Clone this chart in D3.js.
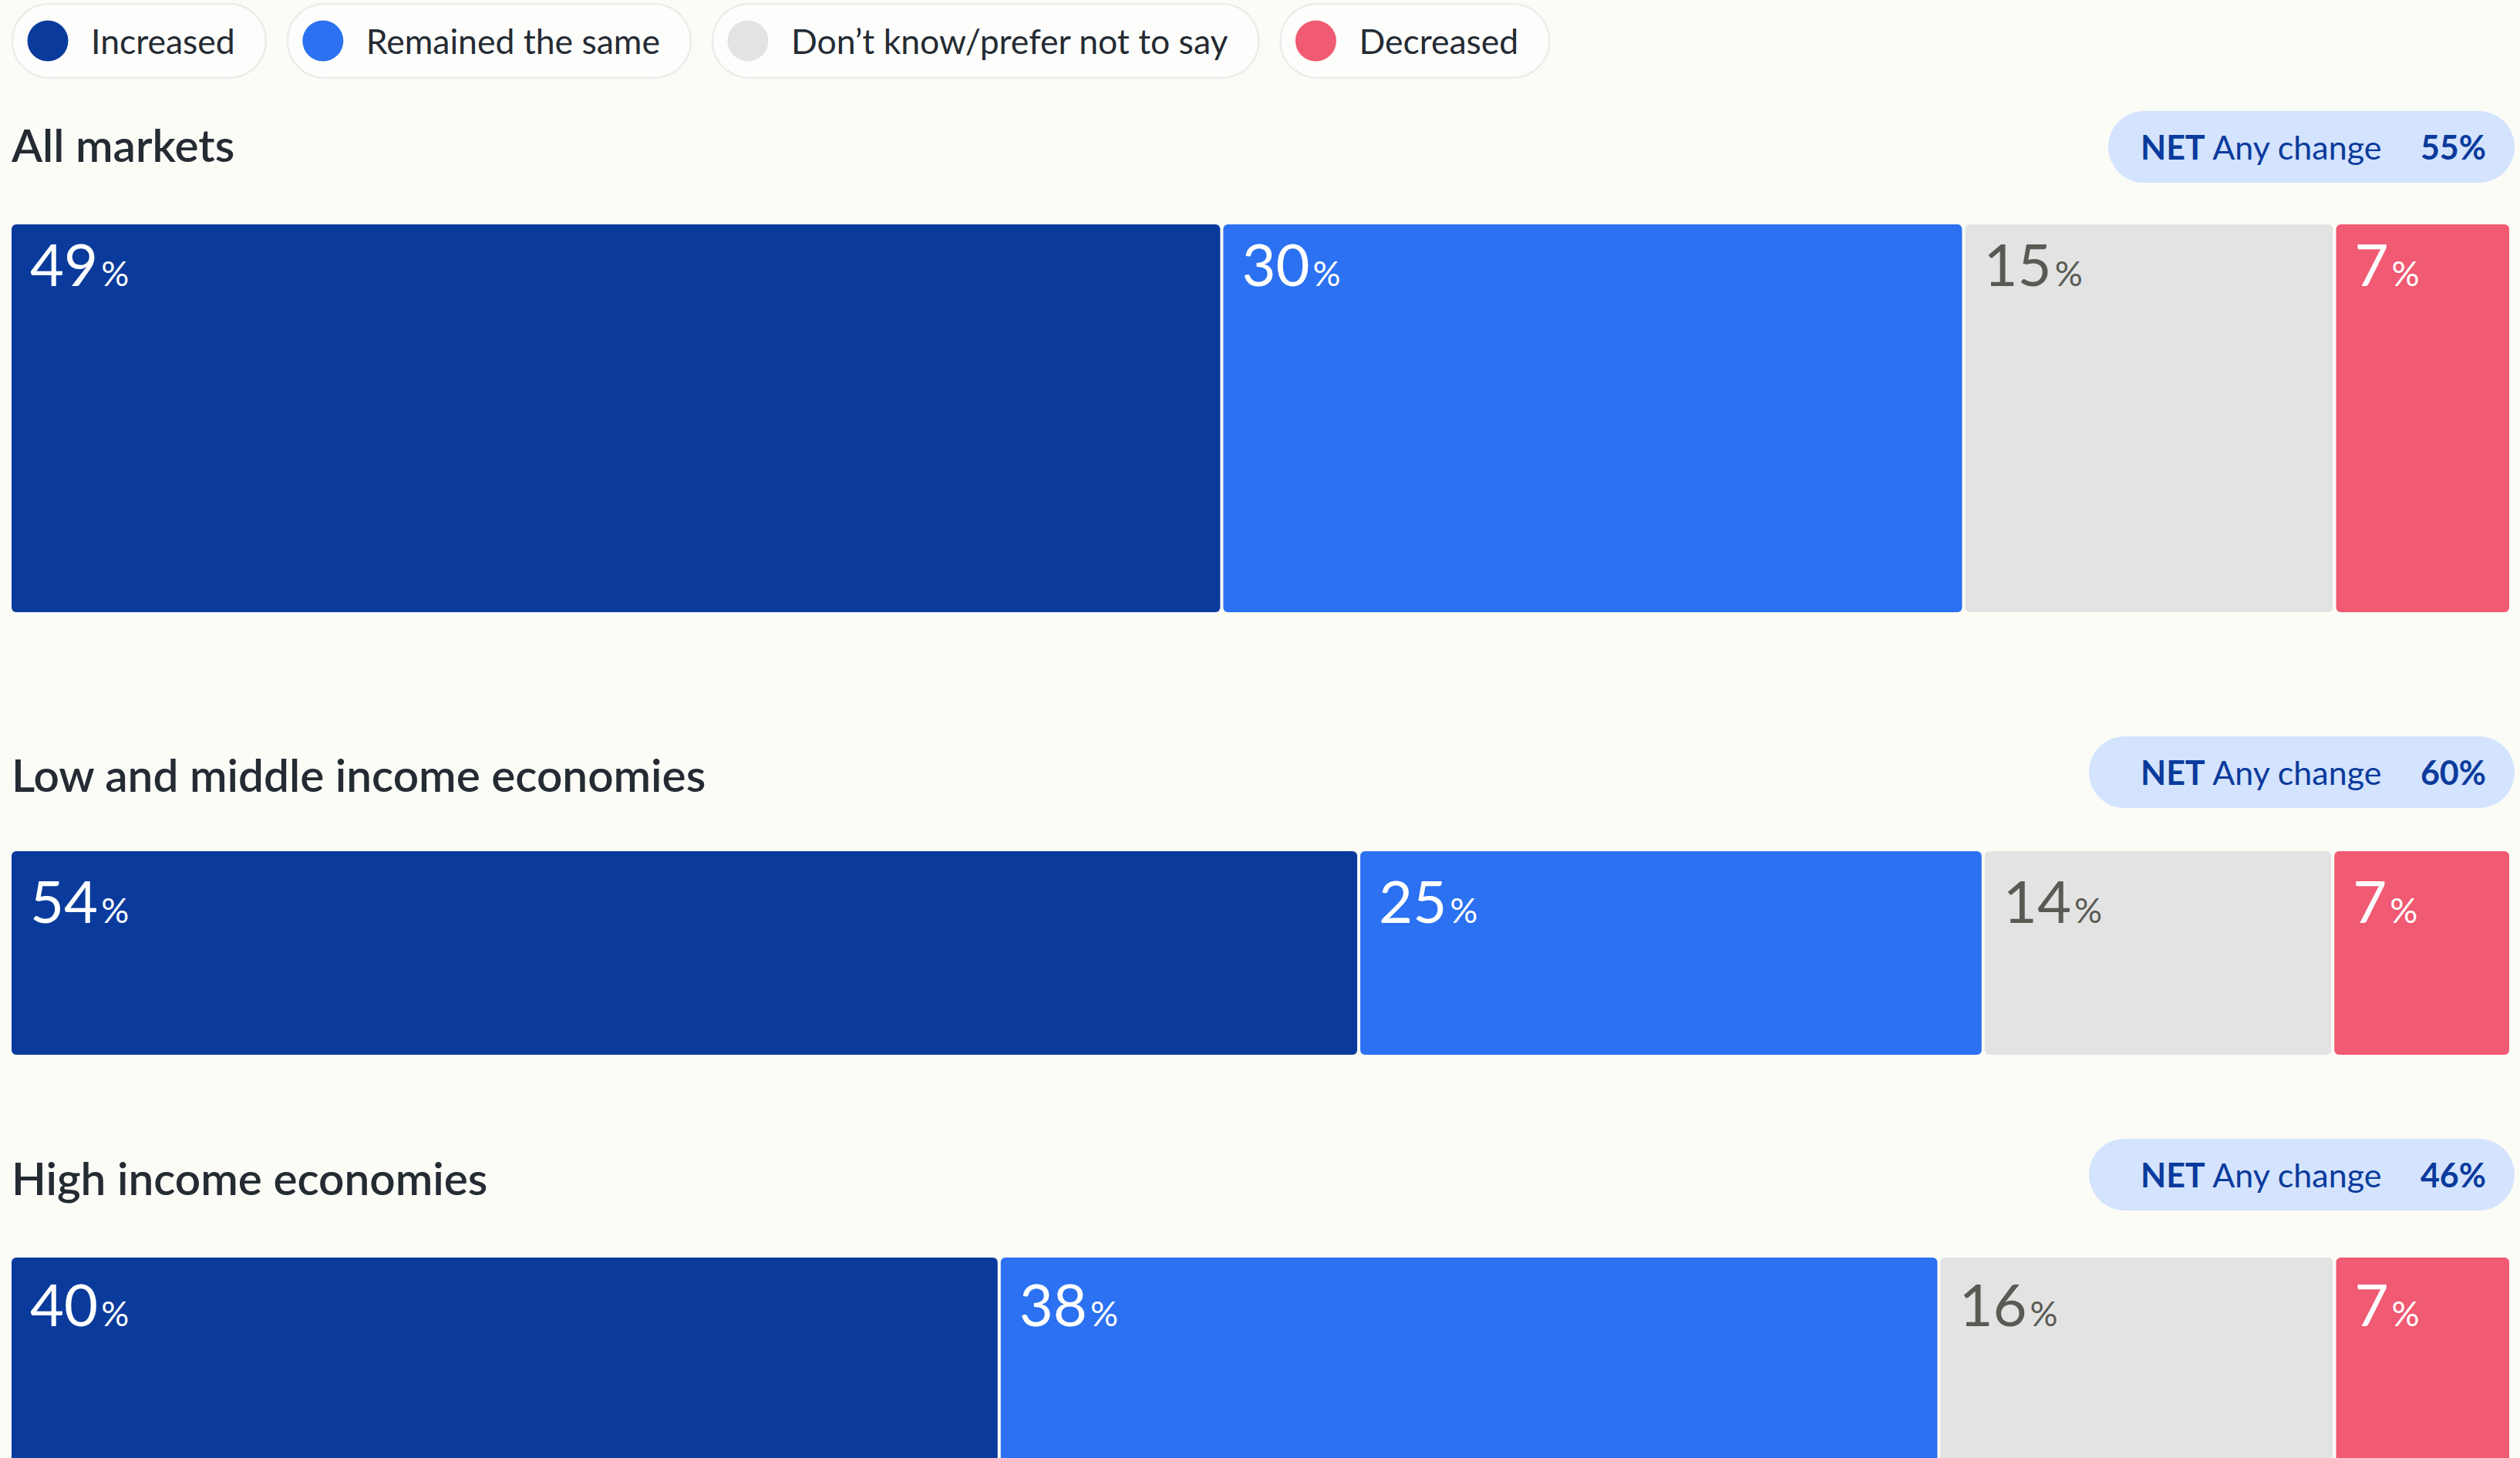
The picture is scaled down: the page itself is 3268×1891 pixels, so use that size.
<!DOCTYPE html>
<html>
<head>
<meta charset="utf-8">
<script src="https://cdn.jsdelivr.net/npm/d3@7"></script>
<style>
  html, body { margin: 0; padding: 0; background: #fcfcf7; overflow: hidden; }
  svg { display: block; }
</style>
</head>
<body>
<svg id="chart"></svg>
<script>
// Survey answers, stacked per market group
const categories = ["Increased", "Remained the same", "Don’t know/prefer not to say", "Decreased"];
const groups = ["All markets", "Low and middle income economies", "High income economies"];
const increased = [49, 54, 40];
const remainedSame = [30, 25, 38];
const dontKnow = [15, 14, 16];
const decreased = [7, 7, 7];
const netAnyChange = [55, 60, 46];

const colors = ["#0a3b9c", "#2b71f1", "#e3e3e3", "#f05a72"];
const labelColors = ["#ffffff", "#ffffff", "#5a5a55", "#ffffff"];

const W = 3268, H = 1891;
const FONT = "Lato, 'Open Sans', sans-serif";
const svg = d3.select("#chart").attr("width", W).attr("height", H)
  .style("font-family", FONT);

// page layout
const left = 15, right = 3254, gap = 4;
const titleBase = [210, 1027, 1550];
const pillTop = [144, 955, 1477];
const pillLeft = [2734, 2709, 2709];
const pillRight = 3261, pillH = 93;
const barTop = [291, 1104, 1631];
const barH = [503, 264, 520];
const labelBase = [80, 93, 89];

// ---- legend ----
const legend = svg.append("g").attr("class", "legend");
let lx = 16;
categories.forEach((c, i) => {
  const g = legend.append("g").attr("transform", `translate(${lx},5)`);
  const pill = g.append("rect").attr("y", 0).attr("height", 96).attr("rx", 48)
    .attr("fill", "#fdfdfb").attr("stroke", "#ececec").attr("stroke-width", 2.5);
  g.append("circle").attr("cx", 46).attr("cy", 48).attr("r", 26.5).attr("fill", colors[i]);
  const t = g.append("text").attr("x", 102).attr("y", 65)
    .attr("font-size", 44.5).attr("fill", "#252b33").text(c);
  const tw = t.node().getComputedTextLength();
  const pw = 102 + tw + 40;
  pill.attr("width", pw);
  lx += pw + 28;
});

// ---- stacked rows ----
const table = groups.map((g, i) => ({
  group: g,
  [categories[0]]: increased[i],
  [categories[1]]: remainedSame[i],
  [categories[2]]: dontKnow[i],
  [categories[3]]: decreased[i]
}));
const stack = d3.stack().keys(categories);
const series = stack(table);

groups.forEach((grp, r) => {
  const row = svg.append("g").attr("class", "row");
  const total = d3.sum(categories, k => table[r][k]);
  const x = d3.scaleLinear().domain([0, total]).range([left, right]);

  // heading
  row.append("text").attr("x", 15).attr("y", titleBase[r])
    .attr("font-size", 58.5).attr("font-weight", 600).attr("fill", "#252b33")
    .text(grp);

  // NET badge
  const badge = row.append("g");
  badge.append("rect").attr("x", pillLeft[r]).attr("y", pillTop[r])
    .attr("width", pillRight - pillLeft[r]).attr("height", pillH).attr("rx", pillH / 2)
    .attr("fill", "#d4e3fe");
  const bt = badge.append("text").attr("x", 2776).attr("y", pillTop[r] + 63)
    .attr("font-size", 43).attr("fill", "#0a3b9c");
  bt.append("tspan").attr("font-weight", 700).text("NET");
  bt.append("tspan").attr("font-weight", 400).text(" Any change");
  badge.append("text").attr("x", 3224).attr("y", pillTop[r] + 63)
    .attr("text-anchor", "end").attr("font-size", 43).attr("font-weight", 700)
    .attr("fill", "#0a3b9c").text(netAnyChange[r] + "%");

  // segments
  series.forEach((s, i) => {
    const d = s[r];
    const x0 = x(d[0]), x1 = x(d[1]);
    const w = x1 - x0 - (i < series.length - 1 ? gap : 0);
    row.append("rect").attr("x", x0).attr("y", barTop[r])
      .attr("width", Math.max(0, w)).attr("height", barH[r])
      .attr("rx", 6).attr("fill", colors[i]);
    const lbl = row.append("text").attr("x", x0 + 24).attr("y", barTop[r] + labelBase[r])
      .attr("fill", labelColors[i]);
    lbl.append("tspan").attr("font-size", 76).text(d[1] - d[0]);
    lbl.append("tspan").attr("font-size", 45).attr("dx", 4).text("%");
  });
});
</script>
</body>
</html>
